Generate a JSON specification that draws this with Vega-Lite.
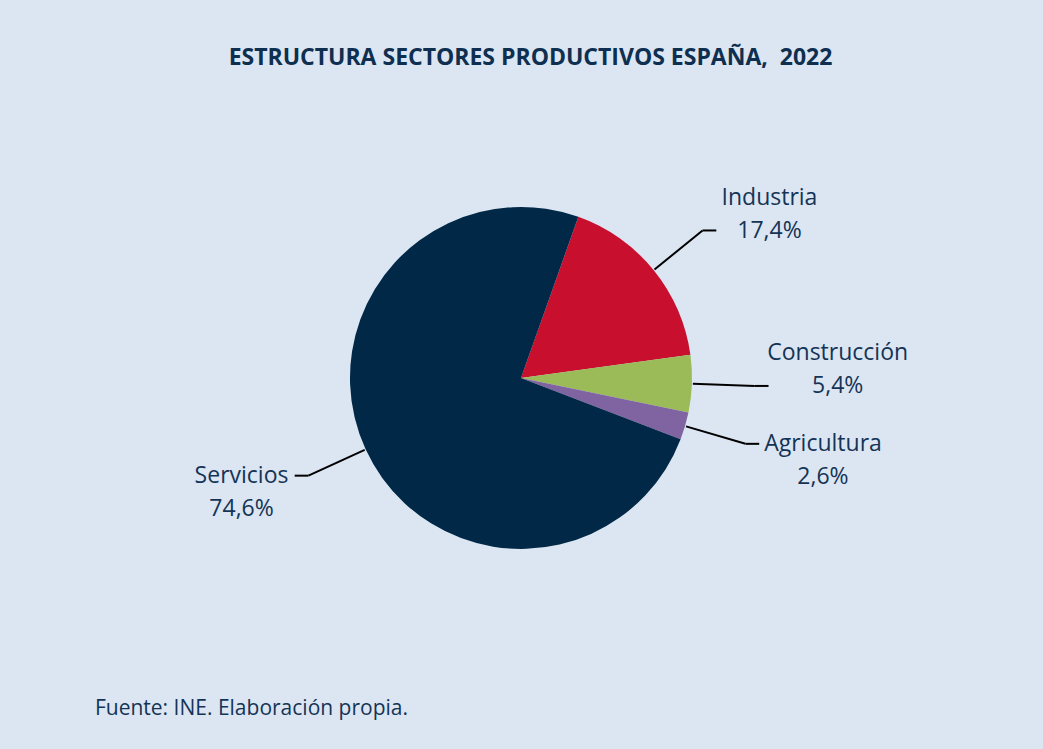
{
  "$schema": "https://vega.github.io/schema/vega-lite/v6.json",
  "width": 1043,
  "height": 659,
  "autosize": {"type": "none"},
  "padding": {"top": 90, "left": 0, "right": 0, "bottom": 0},
  "background": "#dce6f2",
  "config": {"view": {"stroke": null}, "font": "Open Sans"},
  "title": {
    "text": "ESTRUCTURA SECTORES PRODUCTIVOS ESPAÑA,\u00a0 2022",
    "font": "Open Sans",
    "fontSize": 23,
    "fontWeight": "bold",
    "color": "#0e2f50",
    "anchor": "middle",
    "offset": 20,
    "dx": 9
  },
  "layer": [
    {
      "data": {
        "name": "sectores",
        "values": [
          {"sector": "Industria", "valor": 17.4, "orden": 1},
          {"sector": "Construcción", "valor": 5.4, "orden": 2},
          {"sector": "Agricultura", "valor": 2.6, "orden": 3},
          {"sector": "Servicios", "valor": 74.6, "orden": 4}
        ]
      },
      "transform": [
        {"window": [{"op": "sum", "field": "valor", "as": "acum"}], "sort": [{"field": "orden"}], "frame": [null, 0]},
        {"calculate": "0.342 + 2*PI*(datum.acum - datum.valor/2)/100", "as": "ang"},
        {"calculate": "sin(datum.ang)", "as": "ux"},
        {"calculate": "cos(datum.ang)", "as": "uy"},
        {"calculate": "datum.ux >= 0 ? 1 : -1", "as": "lado"},
        {"calculate": "1.36*datum.ux", "as": "cx"},
        {"calculate": "1.36*datum.uy", "as": "cy"},
        {"calculate": "datum.cx + datum.lado*0.08", "as": "sx"},
        {"calculate": "datum.sx + datum.lado*(0.03 + length(datum.sector)*0.031)", "as": "tx"},
        {"calculate": "datum.uy > -0.15 ? datum.cy + 0.19 : datum.cy", "as": "ty"},
        {"calculate": "datum.sector + '\\n' + replace(format(datum.valor, '.1f'), '.', ',') + '%'", "as": "etiqueta"}
      ],
      "layer": [
        {
          "mark": {"type": "arc", "outerRadius": 171},
          "encoding": {
            "theta": {"field": "valor", "type": "quantitative", "stack": true, "scale": {"range": [0.342, 6.6252]}},
            "order": {"field": "orden", "type": "quantitative"},
            "color": {
              "field": "sector",
              "type": "nominal",
              "scale": {
                "domain": ["Industria", "Construcción", "Agricultura", "Servicios"],
                "range": ["#c8102e", "#9bbb59", "#8064a2", "#012947"]
              },
              "legend": null
            },
            "x": {"datum": 0, "type": "quantitative", "scale": {"domain": [-3.029, 3.035], "nice": false, "zero": false}, "axis": null},
            "y": {"datum": 0, "type": "quantitative", "scale": {"domain": [-2.157, 1.674], "nice": false, "zero": false}, "axis": null}
          }
        },
        {
          "mark": {"type": "rule", "color": "#000000", "strokeWidth": 2},
          "encoding": {
            "x": {"field": "ux", "type": "quantitative"},
            "y": {"field": "uy", "type": "quantitative"},
            "x2": {"field": "cx"},
            "y2": {"field": "cy"}
          }
        },
        {
          "mark": {"type": "rule", "color": "#000000", "strokeWidth": 2},
          "encoding": {
            "x": {"field": "cx", "type": "quantitative"},
            "y": {"field": "cy", "type": "quantitative"},
            "x2": {"field": "sx"},
            "y2": {"field": "cy"}
          }
        },
        {
          "mark": {"type": "text", "font": "Open Sans", "fontSize": 23, "fontWeight": "normal", "color": "#143456", "align": "center", "baseline": "middle", "lineBreak": "\n", "lineHeight": 33},
          "encoding": {
            "x": {"field": "tx", "type": "quantitative"},
            "y": {"field": "ty", "type": "quantitative"},
            "text": {"field": "etiqueta", "type": "nominal"}
          }
        }
      ]
    },
    {
      "data": {"values": [{"fuente": "Fuente: INE. Elaboración propia."}]},
      "mark": {"type": "text", "font": "Open Sans", "fontSize": 21, "fontWeight": "normal", "color": "#143456", "align": "left", "baseline": "middle"},
      "encoding": {
        "x": {"datum": -2.477, "type": "quantitative"},
        "y": {"datum": -1.924, "type": "quantitative"},
        "text": {"field": "fuente", "type": "nominal"}
      }
    }
  ]
}
